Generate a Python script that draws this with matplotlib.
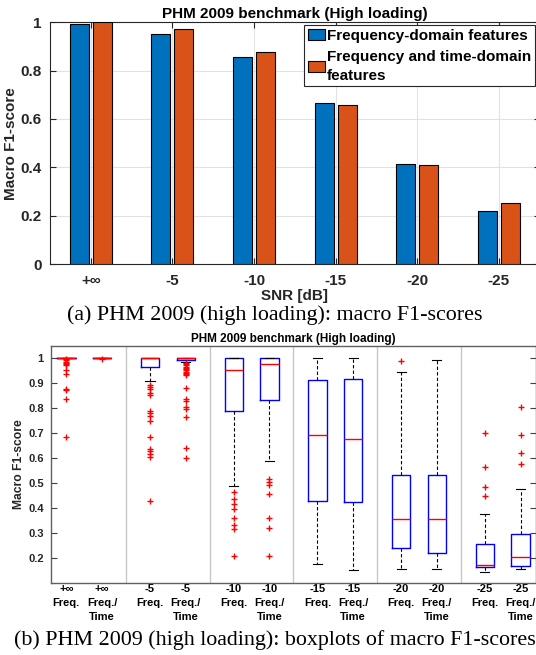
import matplotlib
matplotlib.use('Agg')
import matplotlib.pyplot as plt
import numpy as np

plt.rcParams['font.family'] = ['Liberation Sans', 'DejaVu Sans']
plt.rcParams['font.weight'] = 'bold'

# ---- data ----
snr_labels = ['+∞', '-5', '-10', '-15', '-20', '-25']
method_labels = ['Freq.', 'Freq./\nTime']
series_names = ['Frequency-domain features', 'Frequency and time-domain\nfeatures']

f1_freq = [0.992, 0.953, 0.856, 0.665, 0.412, 0.221]
f1_freq_time = [1.0, 0.974, 0.876, 0.657, 0.411, 0.251]

# boxplot statistics, order: +inf Freq, +inf Freq/Time, -5 Freq, -5 Freq/Time, ...
box_med = [1.0, 1.0, 1.0, 0.999, 0.952, 0.976, 0.690, 0.677, 0.356, 0.356, 0.175, 0.204]
box_q1 = [0.998, 0.999, 0.962, 0.990, 0.789, 0.830, 0.430, 0.423, 0.241, 0.220, 0.164, 0.171]
box_q3 = [1.0, 1.0, 1.0, 1.0, 1.0, 1.0, 0.911, 0.916, 0.534, 0.534, 0.257, 0.297]
box_whislo = [0.998, 0.999, 0.908, 0.985, 0.488, 0.589, 0.179, 0.153, 0.157, 0.157, 0.147, 0.156]
box_whishi = [1.0, 1.0, 1.0, 1.0, 1.0, 1.0, 1.0, 1.0, 0.943, 0.990, 0.378, 0.476]
box_fliers = [
    [0.995, 0.99, 0.985, 0.98, 0.975, 0.97, 0.951, 0.934, 0.876, 0.873, 0.837, 0.684],
    [0.996],
    [0.891, 0.884, 0.875, 0.858, 0.850, 0.787, 0.778, 0.768, 0.749, 0.685,
     0.636, 0.628, 0.617, 0.603, 0.429],
    [0.98, 0.975, 0.97, 0.965, 0.96, 0.955, 0.95, 0.945, 0.94, 0.935, 0.93,
     0.880, 0.834, 0.826, 0.805, 0.796, 0.765, 0.639, 0.599],
    [0.466, 0.438, 0.417, 0.398, 0.360, 0.333, 0.316, 0.211],
    [0.515, 0.504, 0.491, 0.455, 0.360, 0.322, 0.211],
    [], [],
    [0.988], [],
    [0.701, 0.565, 0.484, 0.447],
    [0.805, 0.692, 0.619, 0.576],
]

W, H = 536, 655
fig = plt.figure(figsize=(W / 100, H / 100), dpi=100)
dark = '#262626'

# ---- top: bar chart ----
ax1 = fig.add_axes([50 / W, 1 - 264 / H, 489.5 / W, 241.7 / H])
x = np.arange(1, len(snr_labels) + 1)
bw = 0.233
off = 0.141
ax1.bar(x - off, f1_freq, bw, color='#0072BD', edgecolor='black', lw=0.8,
        label=series_names[0], zorder=3)
ax1.bar(x + off, f1_freq_time, bw, color='#D95319', edgecolor='black', lw=0.8,
        label=series_names[1], zorder=3)
ax1.set_xlim(0.5, 6.5)
ax1.set_ylim(0, 1)
ax1.set_xticks(x)
ax1.set_xticklabels(snr_labels)
ax1.set_yticks(np.arange(0, 1.01, 0.2))
ax1.set_yticklabels(['0', '0.2', '0.4', '0.6', '0.8', '1'])
ax1.tick_params(direction='in', length=4, width=0.8, color=dark, labelsize=11,
                top=True, right=True, labelcolor=dark, pad=6)
ax1.tick_params(axis='x', pad=7)
ax1.grid(True, color='#e2e2e2', lw=0.8, zorder=0)
ax1.set_axisbelow(True)
for s in ax1.spines.values():
    s.set_color(dark)
    s.set_linewidth(0.8)
ax1.set_title('PHM 2009 benchmark (High loading)', fontsize=11, fontweight='bold',
              color='black', pad=3)
ax1.set_ylabel('Macro F1-score', fontsize=11, fontweight='bold', color=dark, labelpad=2)
ax1.set_xlabel('SNR [dB]', fontsize=11, fontweight='bold', color=dark, labelpad=1)
leg = ax1.legend(loc='upper right', bbox_to_anchor=(535.3 / W, 1 - 25 / H),
                 bbox_transform=fig.transFigure, borderaxespad=0, fancybox=False,
                 edgecolor=dark, framealpha=1, fontsize=11, handlelength=1.1,
                 handleheight=0.75, handletextpad=0.15, borderpad=0.25,
                 labelspacing=0.45)
leg.get_frame().set_linewidth(0.8)
for t in leg.get_texts():
    t.set_linespacing(1.45)

# ---- bottom: boxplots ----
ax2 = fig.add_axes([50.7 / W, 1 - 582.7 / H, 485.5 / W, 237 / H])
positions = []
for g in range(len(snr_labels)):
    positions += [g + 1 - 0.213, g + 1 + 0.213]
stats = []
for i in range(len(box_med)):
    stats.append(dict(med=box_med[i], q1=box_q1[i], q3=box_q3[i],
                      whislo=box_whislo[i], whishi=box_whishi[i],
                      fliers=box_fliers[i]))
ax2.bxp(stats, positions=positions, widths=0.22, capwidths=0.11,
        boxprops=dict(color='blue', lw=1.0),
        medianprops=dict(color='red', lw=1.0),
        whiskerprops=dict(color='black', lw=0.8, linestyle=(0, (3, 2))),
        capprops=dict(color='black', lw=0.8),
        flierprops=dict(marker='+', markeredgecolor='red', markersize=4,
                        markeredgewidth=1.0, linestyle='none'),
        zorder=3)
for g in range(1, len(snr_labels)):
    ax2.axvline(g + 0.5, color='#c8c8c8', lw=1.0, zorder=1)
ax2.set_xlim(0.6, 6.4)
ax2.set_ylim(0.103, 1.048)
ax2.set_yticks(np.arange(0.2, 1.01, 0.1))
ax2.set_yticklabels(['0.2', '0.3', '0.4', '0.5', '0.6', '0.7', '0.8', '0.9', '1'])
ax2.set_xticks(positions)
ax2.set_xticklabels([f'{s}\n{m}' for s in snr_labels for m in method_labels],
                    linespacing=1.5)
ax2.tick_params(axis='y', direction='in', length=4, width=0.8, color='#404040',
                labelsize=8, right=True, labelcolor=dark, pad=5)
ax2.tick_params(axis='x', length=0, labelsize=8, labelcolor='black', pad=1)
for s in ax2.spines.values():
    s.set_color('#606060')
    s.set_linewidth(1.0)
ax2.set_title('PHM 2009 benchmark (High loading)', fontsize=8.5, fontweight='bold',
              color='black', pad=3)
ax2.set_ylabel('Macro F1-score', fontsize=8.7, fontweight='bold', color=dark, labelpad=2)

# ---- captions ----
fig.text(0.5 * (68 + 481) / W, 1 - 315.5 / H,
         '(a) PHM 2009 (high loading): macro F1-scores',
         family='Liberation Serif', fontweight='normal', fontsize=15.8,
         ha='center', va='center')
fig.text(0.5 * (15 + 534) / W, 1 - 640 / H,
         '(b) PHM 2009 (high loading): boxplots of macro F1-scores',
         family='Liberation Serif', fontweight='normal', fontsize=15.8,
         ha='center', va='center')

fig.savefig('out.png', dpi=100)
